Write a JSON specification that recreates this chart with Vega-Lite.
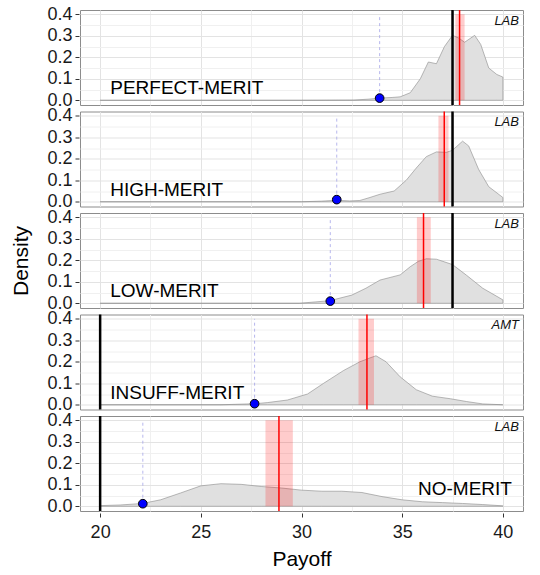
{
  "$schema": "https://vega.github.io/schema/vega-lite/v6.json",
  "padding": {"left": 10, "top": 5, "right": 5, "bottom": 5},
  "background": "white",
  "config": {
    "font": "Liberation Sans",
    "view": {"stroke": "#8c8c8c", "strokeWidth": 1},
    "facet": {"spacing": 2.5}
  },
  "data": {"values": [
      {"kind": "curve", "cond": "PERFECT-MERIT", "payoff": 20, "d": 0},
      {"kind": "curve", "cond": "PERFECT-MERIT", "payoff": 30, "d": 0},
      {"kind": "curve", "cond": "PERFECT-MERIT", "payoff": 32.6, "d": 0.001},
      {"kind": "curve", "cond": "PERFECT-MERIT", "payoff": 33.3, "d": 0.005},
      {"kind": "curve", "cond": "PERFECT-MERIT", "payoff": 33.9, "d": 0.01},
      {"kind": "curve", "cond": "PERFECT-MERIT", "payoff": 34.5, "d": 0.013},
      {"kind": "curve", "cond": "PERFECT-MERIT", "payoff": 34.9, "d": 0.016},
      {"kind": "curve", "cond": "PERFECT-MERIT", "payoff": 35.4, "d": 0.035},
      {"kind": "curve", "cond": "PERFECT-MERIT", "payoff": 35.9, "d": 0.1},
      {"kind": "curve", "cond": "PERFECT-MERIT", "payoff": 36.3, "d": 0.178},
      {"kind": "curve", "cond": "PERFECT-MERIT", "payoff": 36.7, "d": 0.17},
      {"kind": "curve", "cond": "PERFECT-MERIT", "payoff": 37.1, "d": 0.25},
      {"kind": "curve", "cond": "PERFECT-MERIT", "payoff": 37.5, "d": 0.302},
      {"kind": "curve", "cond": "PERFECT-MERIT", "payoff": 37.8, "d": 0.29},
      {"kind": "curve", "cond": "PERFECT-MERIT", "payoff": 38.1, "d": 0.27},
      {"kind": "curve", "cond": "PERFECT-MERIT", "payoff": 38.6, "d": 0.302},
      {"kind": "curve", "cond": "PERFECT-MERIT", "payoff": 38.9, "d": 0.26},
      {"kind": "curve", "cond": "PERFECT-MERIT", "payoff": 39.3, "d": 0.15},
      {"kind": "curve", "cond": "PERFECT-MERIT", "payoff": 39.7, "d": 0.12},
      {"kind": "curve", "cond": "PERFECT-MERIT", "payoff": 40, "d": 0.108},
      {"kind": "curve", "cond": "HIGH-MERIT", "payoff": 20, "d": 0},
      {"kind": "curve", "cond": "HIGH-MERIT", "payoff": 30, "d": 0},
      {"kind": "curve", "cond": "HIGH-MERIT", "payoff": 31, "d": 0.003},
      {"kind": "curve", "cond": "HIGH-MERIT", "payoff": 31.7, "d": 0.007},
      {"kind": "curve", "cond": "HIGH-MERIT", "payoff": 32.4, "d": 0.004},
      {"kind": "curve", "cond": "HIGH-MERIT", "payoff": 32.9, "d": 0.006},
      {"kind": "curve", "cond": "HIGH-MERIT", "payoff": 33.4, "d": 0.02},
      {"kind": "curve", "cond": "HIGH-MERIT", "payoff": 33.9, "d": 0.035},
      {"kind": "curve", "cond": "HIGH-MERIT", "payoff": 34.6, "d": 0.05},
      {"kind": "curve", "cond": "HIGH-MERIT", "payoff": 35.2, "d": 0.1},
      {"kind": "curve", "cond": "HIGH-MERIT", "payoff": 35.7, "d": 0.157},
      {"kind": "curve", "cond": "HIGH-MERIT", "payoff": 36.2, "d": 0.21},
      {"kind": "curve", "cond": "HIGH-MERIT", "payoff": 36.7, "d": 0.232},
      {"kind": "curve", "cond": "HIGH-MERIT", "payoff": 37.2, "d": 0.23},
      {"kind": "curve", "cond": "HIGH-MERIT", "payoff": 37.5, "d": 0.24},
      {"kind": "curve", "cond": "HIGH-MERIT", "payoff": 38.0, "d": 0.282},
      {"kind": "curve", "cond": "HIGH-MERIT", "payoff": 38.3, "d": 0.26},
      {"kind": "curve", "cond": "HIGH-MERIT", "payoff": 38.8, "d": 0.15},
      {"kind": "curve", "cond": "HIGH-MERIT", "payoff": 39.3, "d": 0.07},
      {"kind": "curve", "cond": "HIGH-MERIT", "payoff": 40, "d": 0.02},
      {"kind": "curve", "cond": "LOW-MERIT", "payoff": 20, "d": 0},
      {"kind": "curve", "cond": "LOW-MERIT", "payoff": 29.9, "d": 0},
      {"kind": "curve", "cond": "LOW-MERIT", "payoff": 31.4, "d": 0.012},
      {"kind": "curve", "cond": "LOW-MERIT", "payoff": 32.5, "d": 0.038},
      {"kind": "curve", "cond": "LOW-MERIT", "payoff": 33.2, "d": 0.07},
      {"kind": "curve", "cond": "LOW-MERIT", "payoff": 33.9, "d": 0.108},
      {"kind": "curve", "cond": "LOW-MERIT", "payoff": 34.4, "d": 0.12},
      {"kind": "curve", "cond": "LOW-MERIT", "payoff": 34.9, "d": 0.132},
      {"kind": "curve", "cond": "LOW-MERIT", "payoff": 35.4, "d": 0.17},
      {"kind": "curve", "cond": "LOW-MERIT", "payoff": 35.8, "d": 0.195},
      {"kind": "curve", "cond": "LOW-MERIT", "payoff": 36.2, "d": 0.207},
      {"kind": "curve", "cond": "LOW-MERIT", "payoff": 36.7, "d": 0.205},
      {"kind": "curve", "cond": "LOW-MERIT", "payoff": 37.5, "d": 0.18},
      {"kind": "curve", "cond": "LOW-MERIT", "payoff": 38.2, "d": 0.13},
      {"kind": "curve", "cond": "LOW-MERIT", "payoff": 39.0, "d": 0.07},
      {"kind": "curve", "cond": "LOW-MERIT", "payoff": 40, "d": 0.016},
      {"kind": "curve", "cond": "INSUFF-MERIT", "payoff": 20, "d": 0},
      {"kind": "curve", "cond": "INSUFF-MERIT", "payoff": 26, "d": 0},
      {"kind": "curve", "cond": "INSUFF-MERIT", "payoff": 27.7, "d": 0.005},
      {"kind": "curve", "cond": "INSUFF-MERIT", "payoff": 28.3, "d": 0.01},
      {"kind": "curve", "cond": "INSUFF-MERIT", "payoff": 29.3, "d": 0.022},
      {"kind": "curve", "cond": "INSUFF-MERIT", "payoff": 30.3, "d": 0.05},
      {"kind": "curve", "cond": "INSUFF-MERIT", "payoff": 31.1, "d": 0.1},
      {"kind": "curve", "cond": "INSUFF-MERIT", "payoff": 32.1, "d": 0.16},
      {"kind": "curve", "cond": "INSUFF-MERIT", "payoff": 32.9, "d": 0.2},
      {"kind": "curve", "cond": "INSUFF-MERIT", "payoff": 33.4, "d": 0.218},
      {"kind": "curve", "cond": "INSUFF-MERIT", "payoff": 33.7, "d": 0.228},
      {"kind": "curve", "cond": "INSUFF-MERIT", "payoff": 34.2, "d": 0.2},
      {"kind": "curve", "cond": "INSUFF-MERIT", "payoff": 34.9, "d": 0.13},
      {"kind": "curve", "cond": "INSUFF-MERIT", "payoff": 35.7, "d": 0.07},
      {"kind": "curve", "cond": "INSUFF-MERIT", "payoff": 36.5, "d": 0.04},
      {"kind": "curve", "cond": "INSUFF-MERIT", "payoff": 37.4, "d": 0.028},
      {"kind": "curve", "cond": "INSUFF-MERIT", "payoff": 38.2, "d": 0.015},
      {"kind": "curve", "cond": "INSUFF-MERIT", "payoff": 39.0, "d": 0.004},
      {"kind": "curve", "cond": "INSUFF-MERIT", "payoff": 40, "d": 0},
      {"kind": "curve", "cond": "NO-MERIT", "payoff": 20, "d": 0.003},
      {"kind": "curve", "cond": "NO-MERIT", "payoff": 21, "d": 0.006},
      {"kind": "curve", "cond": "NO-MERIT", "payoff": 22.1, "d": 0.013},
      {"kind": "curve", "cond": "NO-MERIT", "payoff": 23, "d": 0.03},
      {"kind": "curve", "cond": "NO-MERIT", "payoff": 24, "d": 0.062},
      {"kind": "curve", "cond": "NO-MERIT", "payoff": 25, "d": 0.095},
      {"kind": "curve", "cond": "NO-MERIT", "payoff": 26, "d": 0.105},
      {"kind": "curve", "cond": "NO-MERIT", "payoff": 27, "d": 0.102},
      {"kind": "curve", "cond": "NO-MERIT", "payoff": 28, "d": 0.092},
      {"kind": "curve", "cond": "NO-MERIT", "payoff": 29, "d": 0.085},
      {"kind": "curve", "cond": "NO-MERIT", "payoff": 30, "d": 0.075},
      {"kind": "curve", "cond": "NO-MERIT", "payoff": 31, "d": 0.07},
      {"kind": "curve", "cond": "NO-MERIT", "payoff": 32, "d": 0.07},
      {"kind": "curve", "cond": "NO-MERIT", "payoff": 33, "d": 0.064},
      {"kind": "curve", "cond": "NO-MERIT", "payoff": 34, "d": 0.045},
      {"kind": "curve", "cond": "NO-MERIT", "payoff": 35, "d": 0.03},
      {"kind": "curve", "cond": "NO-MERIT", "payoff": 36, "d": 0.021},
      {"kind": "curve", "cond": "NO-MERIT", "payoff": 37, "d": 0.017},
      {"kind": "curve", "cond": "NO-MERIT", "payoff": 38, "d": 0.013},
      {"kind": "curve", "cond": "NO-MERIT", "payoff": 39, "d": 0.008},
      {"kind": "curve", "cond": "NO-MERIT", "payoff": 40, "d": 0.002},
      {"kind": "stat", "cond": "PERFECT-MERIT", "optimum": 37.5, "mean": 37.85, "lo": 37.64, "hi": 38.1, "baseline": 33.88, "baseline_d": 0.01, "sample": "LAB"},
      {"kind": "stat", "cond": "HIGH-MERIT", "optimum": 37.5, "mean": 37.09, "lo": 36.8, "hi": 37.3, "baseline": 31.75, "baseline_d": 0.01, "sample": "LAB"},
      {"kind": "stat", "cond": "LOW-MERIT", "optimum": 37.5, "mean": 36.06, "lo": 35.73, "hi": 36.42, "baseline": 31.43, "baseline_d": 0.01, "sample": "LAB"},
      {"kind": "stat", "cond": "INSUFF-MERIT", "optimum": 20, "mean": 33.25, "lo": 32.83, "hi": 33.6, "baseline": 27.67, "baseline_d": 0.005, "sample": "AMT"},
      {"kind": "stat", "cond": "NO-MERIT", "optimum": 20, "mean": 28.88, "lo": 28.21, "hi": 29.57, "baseline": 22.12, "baseline_d": 0.012, "sample": "LAB"}
  ]},
  "facet": {
    "row": {
      "field": "cond",
      "sort": ["PERFECT-MERIT", "HIGH-MERIT", "LOW-MERIT", "INSUFF-MERIT", "NO-MERIT"],
      "title": "Density",
      "header": {"labels": false, "titleFontSize": 21, "titleFontWeight": "normal", "titleColor": "#000", "titlePadding": 4, "titleFont": "Liberation Sans"}
    }
  },
  "spec": {
    "width": 443,
    "height": 95,
    "layer": [
      {
        "transform": [{"filter": "datum.kind === 'curve'"}],
        "mark": {"type": "area", "color": "#e0e0e0", "stroke": "#8a8a8a", "strokeWidth": 0.6, "opacity": 1},
        "encoding": {
          "x": {
            "field": "payoff", "type": "quantitative",
            "scale": {"domain": [19, 41], "nice": false, "zero": false},
            "axis": {
              "title": "Payoff", "titleFontSize": 21, "titleFontWeight": "normal", "titleColor": "#000", "titlePadding": 7,
              "values": [20, 22.5, 25, 27.5, 30, 32.5, 35, 37.5, 40],
              "labelExpr": "datum.value % 5 === 0 ? datum.label : ''",
              "labelFontSize": 18, "labelColor": "#1a1a1a", "labelPadding": 6, "labelOverlap": false,
              "domain": false, "tickSize": 4, "tickWidth": 1,
              "tickColor": {"condition": {"test": "datum.value % 5 !== 0", "value": "transparent"}, "value": "#333"},
              "gridColor": {"condition": {"test": "datum.value % 5 !== 0", "value": "#f0f0f0"}, "value": "#e3e3e3"},
              "gridWidth": 1
            }
          },
          "y": {
            "field": "d", "type": "quantitative",
            "scale": {"domain": [-0.022, 0.42], "nice": false, "zero": false},
            "axis": {
              "title": null,
              "values": [0, 0.05, 0.1, 0.15, 0.2, 0.25, 0.3, 0.35, 0.4],
              "tickCount": 9,
              "labelExpr": "abs(datum.value * 10 - round(datum.value * 10)) < 0.001 ? format(datum.value, '.1f') : ''",
              "labelFontSize": 18, "labelColor": "#1a1a1a", "labelPadding": 3, "labelOverlap": false,
              "domain": false, "tickSize": 4, "tickWidth": 1,
              "tickColor": {"condition": {"test": "abs(datum.value * 10 - round(datum.value * 10)) > 0.001", "value": "transparent"}, "value": "#333"},
              "gridColor": {"condition": {"test": "abs(datum.value * 10 - round(datum.value * 10)) > 0.001", "value": "#f0f0f0"}, "value": "#e3e3e3"},
              "gridWidth": 1
            }
          }
        }
      },
      {
        "transform": [{"filter": "datum.kind === 'stat'"}],
        "mark": {"type": "rect", "color": "#ff0000", "opacity": 0.2},
        "encoding": {
          "x": {"field": "lo", "type": "quantitative"},
          "x2": {"field": "hi"},
          "y": {"datum": 0, "type": "quantitative"},
          "y2": {"datum": 0.4}
        }
      },
      {
        "transform": [{"filter": "datum.kind === 'stat'"}],
        "mark": {"type": "rule", "color": "#ff0000", "strokeWidth": 1.5},
        "encoding": {"x": {"field": "mean", "type": "quantitative"}}
      },
      {
        "transform": [{"filter": "datum.kind === 'stat'"}],
        "mark": {"type": "rule", "color": "#000000", "strokeWidth": 2.5},
        "encoding": {"x": {"field": "optimum", "type": "quantitative"}}
      },
      {
        "transform": [{"filter": "datum.kind === 'stat'"}],
        "mark": {"type": "rule", "color": "#a5a5e8", "strokeWidth": 0.8, "strokeDash": [3, 3]},
        "encoding": {
          "x": {"field": "baseline", "type": "quantitative"},
          "y": {"field": "baseline_d", "type": "quantitative"},
          "y2": {"datum": 0.4}
        }
      },
      {
        "transform": [{"filter": "datum.kind === 'stat'"}],
        "mark": {"type": "point", "filled": true, "color": "#0000ff", "stroke": "#000000", "strokeWidth": 1, "size": 75, "opacity": 1},
        "encoding": {
          "x": {"field": "baseline", "type": "quantitative"},
          "y": {"field": "baseline_d", "type": "quantitative"}
        }
      },
      {
        "transform": [{"filter": "datum.kind === 'stat' && datum.cond !== 'NO-MERIT'"}],
        "mark": {"type": "text", "align": "left", "baseline": "middle", "fontSize": 19, "color": "#000"},
        "encoding": {
          "x": {"datum": 20.5, "type": "quantitative"},
          "y": {"datum": 0.055, "type": "quantitative"},
          "text": {"field": "cond"}
        }
      },
      {
        "transform": [{"filter": "datum.kind === 'stat' && datum.cond === 'NO-MERIT'"}],
        "mark": {"type": "text", "align": "right", "baseline": "middle", "fontSize": 19, "color": "#000"},
        "encoding": {
          "x": {"datum": 40.45, "type": "quantitative"},
          "y": {"datum": 0.08, "type": "quantitative"},
          "text": {"field": "cond"}
        }
      },
      {
        "transform": [{"filter": "datum.kind === 'stat'"}],
        "mark": {"type": "text", "align": "right", "baseline": "middle", "fontSize": 13, "fontStyle": "italic", "color": "#111"},
        "encoding": {
          "x": {"datum": 40.8, "type": "quantitative"},
          "y": {"datum": 0.37, "type": "quantitative"},
          "text": {"field": "sample"}
        }
      }
    ]
  }
}
